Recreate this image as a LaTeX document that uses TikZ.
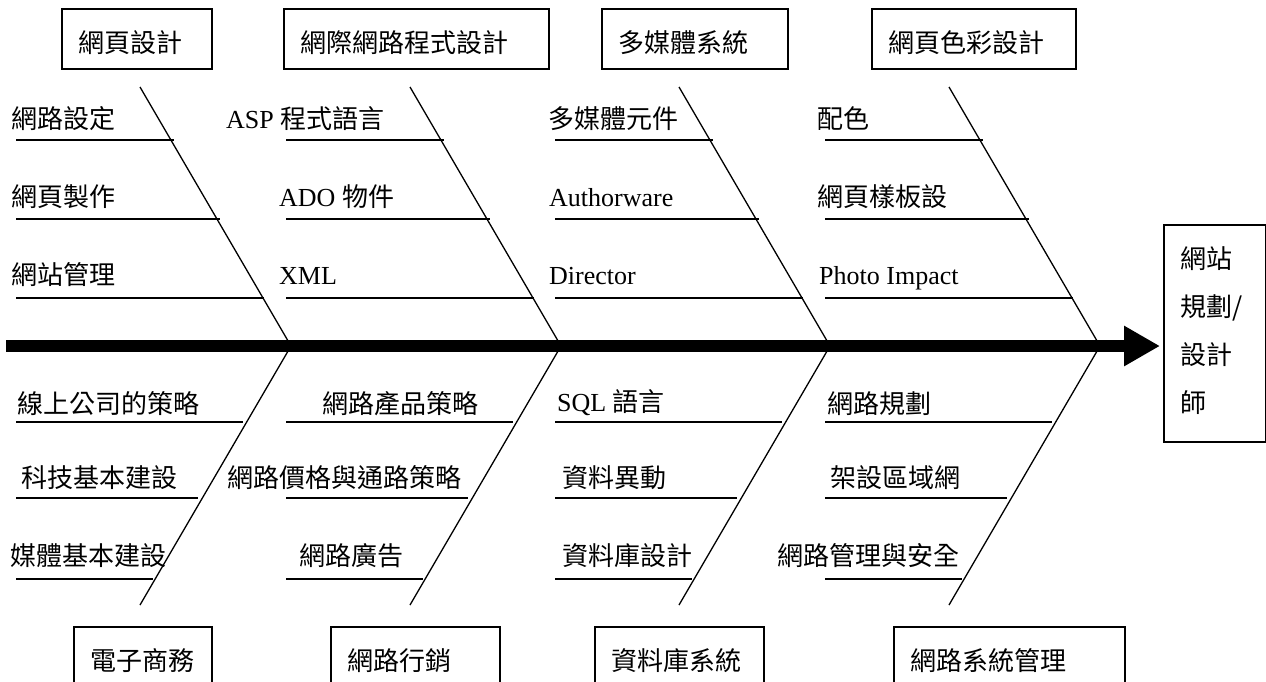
\documentclass[tikz,border=0pt]{standalone}
\usepackage{fontspec}
\setmainfont{Liberation Serif}
\newfontfamily\cjk{Noto Sans CJK TC}
\usetikzlibrary{arrows.meta}
\begin{document}
\begin{tikzpicture}[x=1pt,y=-1pt,
  every node/.style={font=\fontsize{26pt}{48pt}\selectfont, inner sep=0pt},
  lbl/.style={anchor=base west},
  box/.style={draw, line width=1.8pt, anchor=north west, inner xsep=17pt, inner ysep=0pt,
              text height=44pt, align=left},
  topbox/.style={box, text depth=16pt},
  botbox/.style={box, text depth=40pt},
  bone/.style={line width=1.3pt},
  rib/.style={line width=1.5pt},
  spine/.style={line width=12.5pt, -{Triangle[length=36pt,width=38pt]}, shorten >=3pt}]
\useasboundingbox (0,0) rectangle (1266,681);
\clip (0,0) rectangle (1266,681);

% category boxes (top)
\node[topbox, text width=116pt] (t1) at (61,8) {\cjk 網頁設計};
\node[topbox, text width=231pt] (t2) at (283,8) {\cjk 網際網路程式設計};
\node[topbox, text width=152pt] (t3) at (601,8) {\cjk 多媒體系統};
\node[topbox, text width=170pt] (t4) at (871,8) {\cjk 網頁色彩設計};
% category boxes (bottom)
\node[botbox, text width=104pt] (u1) at (73,626) {\cjk 電子商務};
\node[botbox, text width=135pt] (u2) at (330,626) {\cjk 網路行銷};
\node[botbox, text width=135pt] (u3) at (594,626) {\cjk 資料庫系統};
\node[botbox, text width=197pt] (u4) at (893,626) {\cjk 網路系統管理};
% effect box
\node[box, text width=68pt, text depth=173pt] (rb) at (1163,224)
  {\cjk 網站\\規劃/\\設計\\師};

% bones and ribs
\foreach \i/\m in {1/291,2/561,3/830,4/1100} {
  \coordinate (bt\i) at (\m-151,87);
  \coordinate (bm\i) at (\m,346);
  \coordinate (bb\i) at (\m-151,605);
  \draw[bone] (bt\i) -- (bm\i) -- (bb\i);
  \draw[rib] (\m-275,140) -- (\m-117,140);
  \draw[rib] (\m-275,219) -- (\m-71,219);
  \draw[rib] (\m-275,298) -- (\m-27,298);
  \draw[rib] (\m-275,422) -- (\m-48,422);
  \draw[rib] (\m-275,498) -- (\m-93,498);
  \draw[rib] (\m-275,579) -- (\m-138,579);
}

% spine
\coordinate (tail) at (6,346);
\draw[spine] (tail) -- (tail -| rb.west);

% labels top
\node[lbl] (a11) at (11,128) {\cjk 網路設定};
\node[lbl] (a12) at (11,206) {\cjk 網頁製作};
\node[lbl] (a13) at (11,284) {\cjk 網站管理};
\node[lbl] (a21) at (226,128) {ASP \cjk 程式語言};
\node[lbl] (a22) at (279,206) {ADO \cjk 物件};
\node[lbl] (a23) at (279,284) {XML};
\node[lbl] (a31) at (548,128) {\cjk 多媒體元件};
\node[lbl] (a32) at (549,206) {Authorware};
\node[lbl] (a33) at (549,284) {Director};
\node[lbl] (a41) at (817,128) {\cjk 配色};
\node[lbl] (a42) at (817,206) {\cjk 網頁樣板設};
\node[lbl] (a43) at (819,284) {Photo Impact};
% labels bottom
\node[lbl] (b11) at (17,413) {\cjk 線上公司的策略};
\node[lbl] (b12) at (21,487) {\cjk 科技基本建設};
\node[lbl] (b13) at (10,565) {\cjk 媒體基本建設};
\node[lbl] (b21) at (322,413) {\cjk 網路產品策略};
\node[lbl] (b22) at (227,487) {\cjk 網路價格與通路策略};
\node[lbl] (b23) at (299,565) {\cjk 網路廣告};
\node[lbl] (b31) at (557,411) {SQL \cjk 語言};
\node[lbl] (b32) at (562,487) {\cjk 資料異動};
\node[lbl] (b33) at (562,565) {\cjk 資料庫設計};
\node[lbl] (b41) at (827,413) {\cjk 網路規劃};
\node[lbl] (b42) at (830,487) {\cjk 架設區域網};
\node[lbl] (b43) at (777,565) {\cjk 網路管理與安全};
\end{tikzpicture}
\end{document}
